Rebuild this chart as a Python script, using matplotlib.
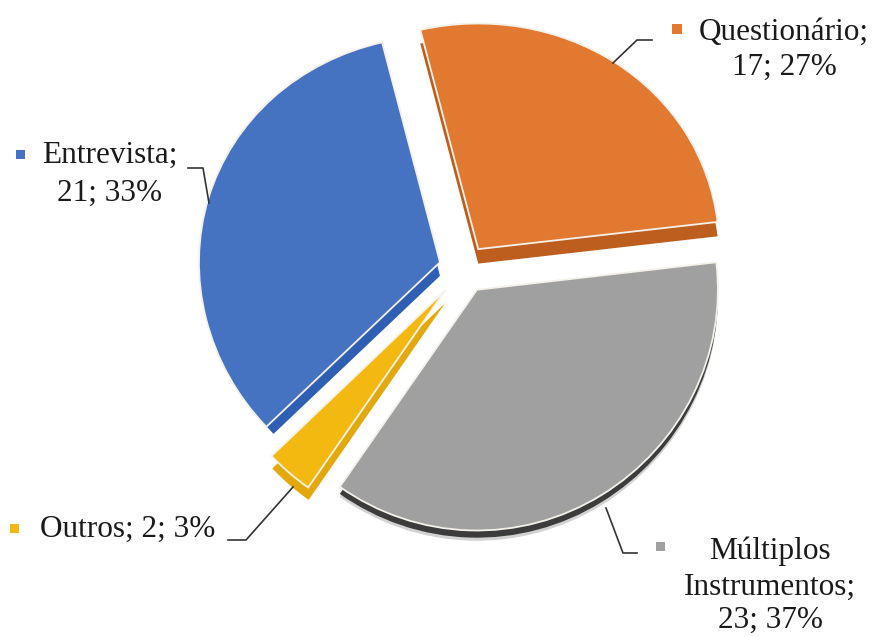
import numpy as np
import matplotlib
matplotlib.use("Agg")
import matplotlib.pyplot as plt
from matplotlib.lines import Line2D
from matplotlib.patches import Rectangle

categories = ["Questionário", "Múltiplos Instrumentos", "Outros", "Entrevista"]
values = [17, 23, 2, 21]
percents = [27, 37, 3, 33]
top_colors = ["#E17A30", "#A0A0A0", "#F3B910", "#4672C2"]
side_colors = ["#BD5E1E", "#3C3C3C", "#E3A90C", "#2F5FB3"]
side_depth = [15, 7, 13, 14]
side_shrink = [0, 0, 1, 10]

W, H = 875, 637
CX, CY = 464, 269
R = 241
START = 103.9
S, K = 0.9675, 0.000114


def fwd(v):
    v = np.asarray(v, dtype=float)
    return S * v * (1 - K * v)


def inv(u):
    u = np.asarray(u, dtype=float)
    return (S - np.sqrt(S * S - 4 * S * K * u)) / (2 * S * K)


plt.rcParams["font.family"] = ["Liberation Serif", "DejaVu Serif"]
fig = plt.figure(figsize=(W / 100, H / 100), dpi=100, facecolor="white")
ax = fig.add_axes([0, 0, 1, 1])
explode = [25, 25, 29, 25]

# soft outer shadow below the grey slice, then the slice sides
soft, _ = ax.pie(values, explode=explode, radius=R, startangle=START, counterclock=False,
                 colors=["none", "#D2D2D2", "none", "none"], wedgeprops=dict(lw=0))
for w in soft:
    cx, cy = w.center
    w.set_center((cx, cy - 10))
    w.set_zorder(1)

sides, _ = ax.pie(values, explode=explode, radius=R, startangle=START, counterclock=False,
                  colors=side_colors, wedgeprops=dict(lw=0))
for w, d, s in zip(sides, side_depth, side_shrink):
    cx, cy = w.center
    w.set_center((cx, cy - d))
    w.set_radius(R - s)
    w.set_zorder(2)

tops, _ = ax.pie(values, explode=explode, radius=R, startangle=START, counterclock=False,
                 colors=top_colors, wedgeprops=dict(lw=1.3, edgecolor="#F4F1EA", joinstyle="miter"))
for w in tops:
    w.set_zorder(3)

ax.set_aspect("auto")
ax.set_xlim(-CX, W - CX)
ax.set_yscale("function", functions=(fwd, inv))
ax.set_ylim(float(inv(-(H - CY))), float(inv(CY)))
ax.axis("off")

px = lambda x, y: (x / W, 1 - y / H)


def label(x, y, s, ha="center"):
    fig.text(*px(x, y), s, ha=ha, va="center", fontsize=22.5, color="#1a1a1a", zorder=6)


def leader(pts):
    xs, ys = zip(*[px(*p) for p in pts])
    fig.add_artist(Line2D(xs, ys, color="#333333", lw=1.2, transform=fig.transFigure, zorder=5))


def square(x, y, size, color):
    fig.add_artist(Rectangle(px(x - size / 2, y + size / 2), size / W, size / H,
                             transform=fig.transFigure, color=color, lw=0, zorder=5))


# Questionário
square(677, 29, 10, top_colors[0])
label(784, 32, f"{categories[0]};")
label(784, 67, f"{values[0]}; {percents[0]}%")
leader([(613, 63), (637, 40), (652, 40)])

# Múltiplos Instrumentos
first, second = categories[1].split()
square(660, 546, 9, top_colors[1])
label(770, 551, first)
label(770, 587, f"{second};")
label(770, 620, f"{values[1]}; {percents[1]}%")
leader([(606, 508), (623, 553), (637, 553)])

# Outros
square(14, 528, 9, top_colors[2])
label(40, 529, f"{categories[2]}; {values[2]}; {percents[2]}%", ha="left")
leader([(293, 487), (246, 540), (228, 540)])

# Entrevista
square(20, 154, 9, top_colors[3])
label(110, 155, f"{categories[3]};")
label(110, 193, f"{values[3]}; {percents[3]}%")
leader([(209, 203), (203, 168), (188, 168)])

fig.savefig("out.png", dpi=100, facecolor="white")
